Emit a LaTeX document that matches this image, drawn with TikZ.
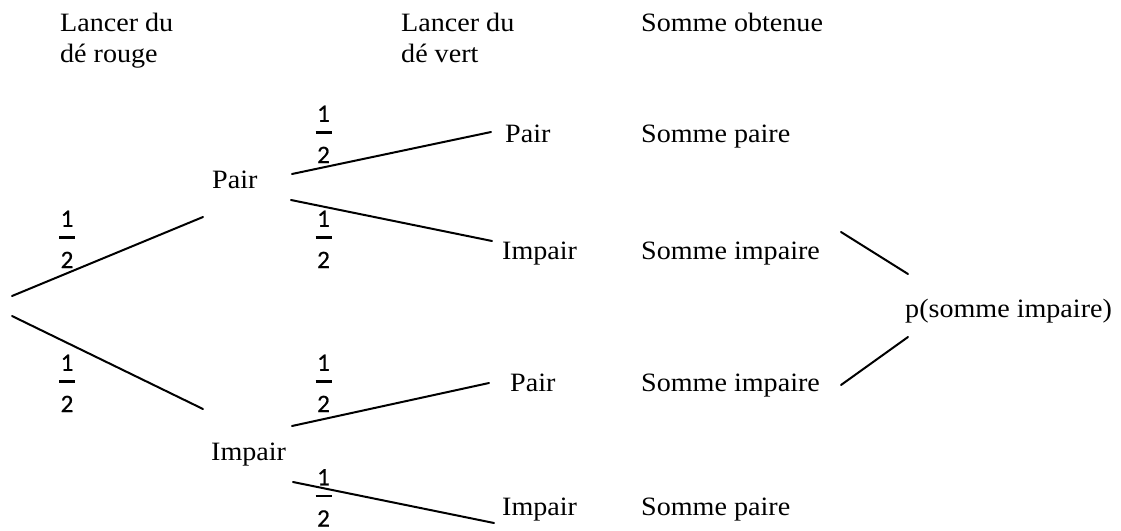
\documentclass[tikz,border=0pt]{standalone}
\usepackage{fontspec}
\setmainfont[FakeStretch=1.06]{Liberation Serif}
\newfontfamily\fracfont[FakeBold=0.6]{Carlito}
\newcommand{\halfbox}{\vbox{\offinterlineskip\fracfont\fontsize{25}{25}\selectfont
  \halign{\hfil##\hfil\cr 1\cr\noalign{\kern9.4pt}\vrule width16pt height2.8pt\cr\noalign{\kern12.8pt}2\cr}}}
\newcommand{\twolines}[2]{\vtop{\baselineskip=31pt\hbox{#1}\hbox{#2}}}
\begin{document}
\begin{tikzpicture}[x=1pt,y=-1pt,
  txt/.style={anchor=base west,inner sep=0pt,font=\fontsize{26.5}{31}\selectfont},
  frac/.style={anchor=base,inner sep=0pt},
  branch/.style={line width=2pt,line cap=round}]
\useasboundingbox (0,0) rectangle (1121,530);
% headers
\node[txt] (h1) at (60,31.5) {\twolines{Lancer du}{dé rouge}};
\node[txt] (h2) at (401,31.5) {\twolines{Lancer du}{dé vert}};
\node[txt] (h3) at (641,31.5) {Somme obtenue};
% level 1
\node[txt] (p1) at (212,188) {Pair};
\node[txt] (i1) at (211,460) {Impair};
% level 2
\node[txt] (pp) at (505,142) {Pair};
\node[txt] (pi) at (502,259) {Impair};
\node[txt] (ip) at (510,391) {Pair};
\node[txt] (ii) at (502,515) {Impair};
% sums
\node[txt] (s1) at (641,142) {Somme paire};
\node[txt] (s2) at (641,259) {Somme impaire};
\node[txt] (s3) at (641,391) {Somme impaire};
\node[txt] (s4) at (641,515) {Somme paire};
\node[txt] (res) at (905,317) {p(somme impaire)};
% fractions
\node[frac] (f1) at (67,268) {\halfbox};
\node[frac] (f2) at (67,412) {\halfbox};
\node[frac] (f3) at (323.5,163) {\halfbox};
\node[frac] (f4) at (323.5,268) {\halfbox};
\node[frac] (f5) at (323.5,412) {\halfbox};
\node[frac] (f6) at (323.5,526.5) {\halfbox};
% connector ends
\coordinate (r1) at (12,296);
\coordinate (r2) at (12,316);
\coordinate (p1in) at (203,217);
\coordinate (i1in) at (203,409);
\coordinate (p1a) at (292,174);
\coordinate (p1b) at (291,200);
\coordinate (i1a) at (292,426);
\coordinate (i1b) at (293,482);
\coordinate (ppin) at (491,132);
\coordinate (piin) at (492,241);
\coordinate (ipin) at (489,383);
\coordinate (iiin) at (494,523);
\coordinate (s2out) at (841,232);
\coordinate (s3out) at (841,385);
\coordinate (resa) at (908,274);
\coordinate (resb) at (908,337);
% branches
\draw[branch] (r1) -- (p1in);
\draw[branch] (r2) -- (i1in);
\draw[branch] (p1a) -- (ppin);
\draw[branch] (p1b) -- (piin);
\draw[branch] (i1a) -- (ipin);
\draw[branch] (i1b) -- (iiin);
\draw[branch] (s2out) -- (resa);
\draw[branch] (s3out) -- (resb);
\end{tikzpicture}
\end{document}
